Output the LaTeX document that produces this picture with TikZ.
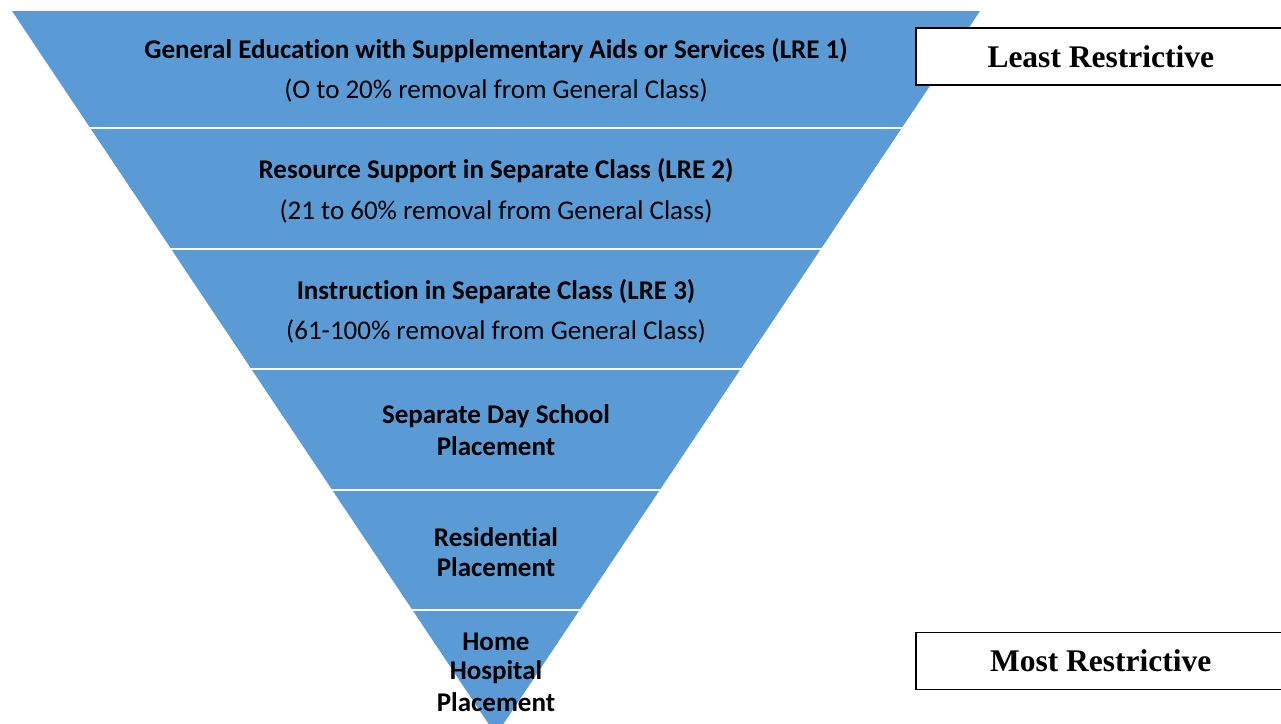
\documentclass[tikz,border=0pt]{standalone}
\usepackage{fontspec}
\setmainfont[Ligatures=NoCommon]{Carlito}
\newfontfamily\timesfont{Liberation Serif}
\usetikzlibrary{positioning}
\definecolor{lreblue}{HTML}{5B9BD5}

\begin{document}
\begin{tikzpicture}[x=1pt,y=-1pt,
    level/.style={font=\fontsize{27}{31}\selectfont\bfseries},
    levelsub/.style={font=\fontsize{27}{31}\selectfont},
    tagbox/.style={draw=black, line width=1.5pt, fill=white, anchor=west,
        minimum width=370pt, minimum height=57pt, inner sep=0pt,
        font=\timesfont\fontsize{31.5}{35}\selectfont\bfseries}]
    %%Background
    \useasboundingbox (0,0) rectangle (1281,723);
    %%
    \fill[lreblue] (12,11) -- (980,11) -- (496,735) -- cycle;
    \foreach \y in {128,249,369,490,610}
        \draw[white, line width=2.5pt] (0,\y) -- (1000,\y);

    \node[level] (lre1) at (496,51) {General Education with Supplementary Aids or Services (LRE 1)};
    \node[levelsub] (lre1sub) at (496,90) {(O to 20\% removal from General Class)};
    \node[level] (lre2) at (496,171) {Resource Support in Separate Class (LRE 2)};
    \node[levelsub] (lre2sub) at (496,211) {(21 to 60\% removal from General Class)};
    \node[level] (lre3) at (496,292) {Instruction in Separate Class (LRE 3)};
    \node[levelsub] (lre3sub) at (496,331) {(61-100\% removal from General Class)};
    \node[level] (day) at (496,416) {Separate Day School};
    \node[level] (dayb) at (496,446) {Placement};
    \node[level] (res) at (496,537) {Residential};
    \node[level] (resb) at (496,567) {Placement};
    \node[level] (home) at (496,642) {Home};
    \node[level] (homeb) at (496,672) {Hospital};
    \node[level] (homec) at (496,702) {Placement};

    \node[tagbox] (least) at (915,56.5) {Least Restrictive};
    \node[tagbox] (most) at (915,661) {Most Restrictive};
\end{tikzpicture}
\end{document}
